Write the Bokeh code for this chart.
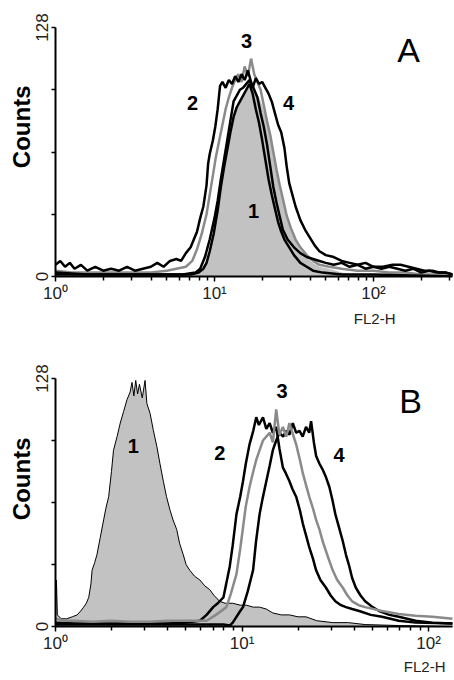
import numpy as np
from bokeh.plotting import figure
from bokeh.models import Range1d, FixedTicker, Label, Title
from bokeh.layouts import column
from bokeh.embed import file_html
from bokeh.resources import INLINE
from bokeh.core.properties import value

# ---------------- DATA (log10 FL2-H, counts) ----------------
# Panel A
a1_log = [0.00, 0.30, 0.60, 0.85, 0.90, 0.93, 0.95, 0.97, 0.995, 1.02, 1.04, 1.06, 1.08, 1.10, 1.12, 1.14, 1.16, 1.18, 1.20, 1.22,
          1.24, 1.26, 1.28, 1.30, 1.32, 1.34, 1.36, 1.38, 1.40, 1.42, 1.44, 1.47, 1.50, 1.54, 1.58, 1.62, 1.68, 1.80, 2.00, 2.50]
a1_cnt = [1, 1, 1, 1, 2, 4, 7, 13, 22, 34, 46, 56, 65, 74, 82, 87, 90, 93, 96, 99,
          94, 86, 79, 70, 60, 50, 42, 35, 28, 23, 19, 15, 11, 7, 5, 3, 2, 1, 1, 0]

afill_log = [0.00, 0.85, 0.90, 0.93, 0.95, 0.97, 0.995, 1.02, 1.04, 1.06, 1.08, 1.10, 1.12, 1.14, 1.16, 1.18, 1.20, 1.22, 1.24, 1.26,
             1.28, 1.30, 1.32, 1.34, 1.36, 1.38, 1.40, 1.42, 1.44, 1.47, 1.50, 1.54, 1.58, 1.62, 1.66, 1.72, 1.80, 1.90, 2.00, 2.50]
afill_cnt = [1, 1, 2, 4, 7, 13, 22, 34, 46, 56, 65, 74, 82, 87, 90, 93, 96, 99, 97, 95,
             92, 88, 82, 75, 67, 58, 50, 42, 35, 27, 20, 14, 10, 7, 5, 4, 2, 1, 0.5, 0]

a2_log = [0.00, 0.03, 0.06, 0.09, 0.12, 0.16, 0.20, 0.25, 0.30, 0.35, 0.40, 0.45, 0.50, 0.55, 0.60, 0.64, 0.68, 0.72, 0.76, 0.79,
          0.82, 0.85, 0.87, 0.89, 0.91, 0.93, 0.95, 0.96, 0.97, 0.99, 1.005, 1.02, 1.035, 1.05, 1.07, 1.09, 1.11, 1.13, 1.15, 1.17,
          1.19, 1.21, 1.23, 1.25, 1.27, 1.29, 1.31, 1.33, 1.35, 1.37, 1.39, 1.41, 1.43, 1.46, 1.50, 1.54, 1.58, 1.62, 1.66, 1.70,
          1.75, 1.80, 1.85, 1.90, 1.95, 2.00, 2.05, 2.10, 2.15, 2.20, 2.25, 2.30, 2.35, 2.40, 2.45, 2.50]
a2_cnt = [6, 8, 5, 7, 4, 6, 3, 5, 3, 4, 3, 5, 3, 4, 5, 7, 5, 8, 9, 8,
          12, 15, 19, 23, 30, 36, 47, 58, 63, 70, 77, 86, 98, 100, 97, 101, 99, 103, 100, 104,
          101, 106, 100, 96, 92, 84, 77, 68, 57, 46, 38, 31, 24, 19, 15, 12, 10, 9, 8, 7,
          6, 7, 5, 6, 4, 5, 4, 5, 4, 3, 4, 2, 3, 2, 2, 1]

a3_log = [0.00, 0.10, 0.20, 0.30, 0.40, 0.50, 0.60, 0.70, 0.76, 0.82, 0.86, 0.89, 0.92, 0.95, 0.97, 0.99, 1.01, 1.03, 1.05, 1.07,
          1.09, 1.11, 1.13, 1.15, 1.17, 1.19, 1.21, 1.23, 1.25, 1.27, 1.29, 1.31, 1.33, 1.35, 1.37, 1.39, 1.41, 1.43, 1.455, 1.48,
          1.51, 1.54, 1.58, 1.62, 1.66, 1.72, 1.80, 1.90, 2.00, 2.10, 2.20, 2.30, 2.50]
a3_cnt = [3, 2, 2, 2, 2, 2, 2, 3, 4, 5, 8, 14, 22, 32, 42, 52, 62, 70, 78, 86,
          92, 97, 101, 104, 100, 108, 103, 112, 104, 100, 96, 88, 80, 73, 64, 55, 47, 40, 31, 25,
          19, 15, 11, 8, 6, 5, 4, 3, 3, 2, 2, 1, 1]

a4_log = [0.00, 0.20, 0.40, 0.60, 0.80, 0.88, 0.91, 0.94, 0.97, 1.00, 1.02, 1.04, 1.06, 1.08, 1.10, 1.12, 1.14, 1.16, 1.18, 1.20,
          1.22, 1.24, 1.26, 1.28, 1.30, 1.32, 1.34, 1.36, 1.38, 1.40, 1.42, 1.44, 1.455, 1.47, 1.49, 1.51, 1.54, 1.57, 1.60, 1.63,
          1.66, 1.70, 1.75, 1.80, 1.85, 1.90, 1.95, 2.00, 2.06, 2.12, 2.17, 2.22, 2.27, 2.32, 2.37, 2.42, 2.46, 2.50]
a4_cnt = [2, 1, 1, 1, 1, 2, 4, 10, 19, 30, 39, 50, 60, 70, 80, 90, 93, 96, 97, 99,
          101, 97, 102, 99, 100, 97, 94, 90, 84, 78, 74, 66, 56, 48, 42, 36, 29, 24, 20, 16,
          13, 11, 10, 8, 7, 6, 7, 5, 5, 6, 6, 5, 4, 3, 3, 2, 2, 1]

# Panel B
b1_log = [0.000, 0.005, 0.010, 0.03, 0.06, 0.09, 0.116, 0.135, 0.151, 0.165, 0.178, 0.19, 0.196, 0.21, 0.222, 0.24, 0.258, 0.27,
          0.285, 0.30, 0.311, 0.33, 0.347, 0.365, 0.383, 0.40, 0.41, 0.42, 0.43, 0.44, 0.45, 0.465, 0.48, 0.49, 0.507, 0.525,
          0.543, 0.56, 0.578, 0.595, 0.614, 0.63, 0.65, 0.665, 0.685, 0.70, 0.72, 0.745, 0.774, 0.80, 0.827, 0.85, 0.88, 0.91,
          0.95, 0.99, 1.023, 1.06, 1.094, 1.13, 1.165, 1.21, 1.254, 1.30, 1.343, 1.40, 1.486, 1.57, 1.66, 1.84, 2.13]
b1_cnt = [5, 24, 6, 4, 4, 5, 6, 8, 10, 12, 15, 22, 29, 33, 37, 46, 55, 61,
          67, 80, 91, 98, 105, 111, 117, 121, 126, 119, 127, 120, 125, 118, 127, 115, 110, 101,
          93, 84, 75, 67, 60, 55, 50, 43, 37, 32, 29, 26, 24, 21, 19, 16, 13, 12,
          12, 11, 11, 10, 10, 9, 7, 6, 6, 5, 5, 3, 2, 2, 1, 0.5, 0]

b2_log = [0.00, 0.10, 0.20, 0.30, 0.40, 0.50, 0.60, 0.70, 0.774, 0.81, 0.845, 0.87, 0.90, 0.915, 0.934, 0.95, 0.97, 0.99, 1.005,
          1.02, 1.04, 1.06, 1.076, 1.09, 1.112, 1.13, 1.148, 1.165, 1.183, 1.20, 1.219, 1.235, 1.254, 1.27, 1.29, 1.31, 1.326,
          1.343, 1.36, 1.38, 1.397, 1.42, 1.45, 1.475, 1.50, 1.53, 1.557, 1.59, 1.628, 1.69, 1.75, 1.84, 1.93, 2.13]
b2_cnt = [2, 1.5, 1.5, 1.5, 1.5, 1.5, 1.5, 2, 3, 6, 10, 12, 15, 22, 31, 42, 58, 67, 75,
          84, 94, 101, 108, 104, 108, 102, 105, 100, 103, 92, 82, 79, 75, 71, 67, 60, 53,
          47, 41, 35, 29, 24, 20, 16, 13, 11, 10, 9, 8, 6, 5, 3, 2, 1.5]

b3_log = [0.00, 0.05, 0.10, 0.20, 0.30, 0.40, 0.50, 0.60, 0.70, 0.81, 0.86, 0.916, 0.94, 0.97, 0.99, 1.005, 1.02, 1.04, 1.06,
          1.076, 1.094, 1.112, 1.13, 1.148, 1.165, 1.183, 1.20, 1.219, 1.237, 1.254, 1.27, 1.29, 1.31, 1.326, 1.343, 1.36, 1.38,
          1.397, 1.415, 1.432, 1.46, 1.486, 1.51, 1.54, 1.565, 1.59, 1.625, 1.66, 1.75, 1.84, 1.93, 2.02, 2.13]
b3_cnt = [4, 3, 3, 2.5, 3, 2.5, 2.5, 3, 3, 3, 6, 10, 17, 27, 40, 51, 62, 72, 80,
          86, 91, 96, 98, 100, 95, 112, 99, 103, 98, 105, 100, 94, 86, 79, 73, 67, 61,
          55, 50, 44, 36, 29, 24, 20, 16, 13, 11, 10, 8, 6.5, 5.5, 5, 4]

b4_log = [0.00, 0.30, 0.60, 0.90, 0.934, 0.95, 0.97, 0.99, 1.005, 1.03, 1.059, 1.075, 1.094, 1.11, 1.13, 1.148, 1.165, 1.183,
          1.20, 1.22, 1.237, 1.254, 1.272, 1.29, 1.308, 1.325, 1.343, 1.36, 1.37, 1.385, 1.397, 1.415, 1.432, 1.45, 1.468,
          1.485, 1.50, 1.52, 1.54, 1.557, 1.575, 1.59, 1.61, 1.635, 1.66, 1.70, 1.735, 1.79, 1.84, 1.93, 2.02, 2.13]
b4_cnt = [1, 1, 1, 1, 0.5, 2, 5, 8, 10, 18, 29, 44, 58, 66, 75, 83, 91, 96,
          100, 98, 101, 99, 105, 100, 101, 98, 103, 100, 106, 95, 88, 84, 81, 77, 72,
          65, 58, 51, 44, 37, 31, 25, 20, 16, 13, 10, 8, 6, 5, 3, 2, 1.5]

# Curve-number labels (FL2-H value, counts)
a_lab_txt = ["3", "2", "4", "1"]
a_lab_x = [15.9, 7.27, 29.2, 17.6]
a_lab_y = [121, 89.4, 89.4, 33.9]
b_lab_txt = ["1", "2", "3", "4"]
b_lab_x = [2.61, 7.59, 16.4, 33.1]
b_lab_y = [93.4, 89.3, 121.8, 88.3]

x_ticks = [1, 10, 100]
x_tick_labels = ["10\u2070", "10\u00b9", "10\u00b2"]
x_minor = [2, 3, 4, 5, 6, 7, 8, 9, 20, 30, 40, 50, 60, 70, 80, 90, 200, 300]
y_ticks = [0, 32, 64, 96, 128]
y_tick_labels = ["0", "", "", "", "128"]

FONT = "Liberation Sans"
BLACK = "#000000"
GRAY = "#8a8a8a"
FILL = "#c2c2c2"


def lx(logs):
    return [10 ** v for v in logs]


def make_fig(xmax, height, top, bottom, right):
    p = figure(width=454, height=height, x_axis_type="log",
               x_range=Range1d(1, xmax), y_range=Range1d(0, 128),
               output_backend="svg", toolbar_location=None,
               min_border_left=55, min_border_right=right,
               min_border_top=top, min_border_bottom=bottom)
    p.outline_line_color = None
    p.xgrid.visible = False
    p.ygrid.visible = False
    p.background_fill_color = "white"
    p.border_fill_color = "white"

    xa = p.xaxis[0]
    xa.ticker = FixedTicker(ticks=x_ticks, minor_ticks=x_minor)
    xa.major_label_overrides = {t: l for t, l in zip(x_ticks, x_tick_labels)}
    xa.axis_line_width = 2
    xa.axis_line_color = BLACK
    xa.major_tick_out = 5
    xa.major_tick_in = 0
    xa.minor_tick_out = 4
    xa.minor_tick_in = 0
    xa.major_tick_line_width = 1.5
    xa.minor_tick_line_width = 1.5
    xa.major_label_text_font = FONT
    xa.major_label_text_font_size = "17px"
    xa.major_label_text_color = "#222222"
    xa.major_label_standoff = 2

    ya = p.yaxis[0]
    ya.ticker = FixedTicker(ticks=y_ticks)
    ya.major_label_overrides = {t: l for t, l in zip(y_ticks, y_tick_labels)}
    ya.major_label_orientation = "vertical"
    ya.axis_line_width = 2
    ya.axis_line_color = BLACK
    ya.major_tick_out = 4
    ya.major_tick_in = 0
    ya.major_tick_line_width = 1.5
    ya.minor_tick_line_color = None
    ya.major_label_text_font = FONT
    ya.major_label_text_font_size = "17px"
    ya.major_label_text_color = "#222222"
    ya.major_label_standoff = 4
    return p


def add_common_labels(p, letter, counts_offset, fl_offset, fl_standoff, letter_xy):
    p.add_layout(Title(text="Counts", align="right", offset=counts_offset, standoff=-4,
                       text_font=FONT, text_font_size="24px", text_font_style="bold",
                       text_color=BLACK), "left")
    p.add_layout(Title(text="FL2-H", align="right", offset=fl_offset, standoff=fl_standoff,
                       text_font=FONT, text_font_size="15px", text_font_style="normal",
                       text_color="#222222"), "below")
    p.add_layout(Label(x=letter_xy[0], y=letter_xy[1], x_units="screen", y_units="screen",
                       text=letter, text_align="center", text_baseline="middle",
                       text_font=FONT, text_font_size="34px", text_color=BLACK))


# ---------------- Panel A ----------------
pA = make_fig(10 ** 2.497, 340, 27, 64, 2)
pA.varea(x=lx(afill_log), y1=0, y2=afill_cnt, fill_color=FILL)
pA.line(lx(a3_log), a3_cnt, line_color=GRAY, line_width=2.5)
pA.line(lx(a1_log), a1_cnt, line_color=BLACK, line_width=2.5)
pA.line(lx(a2_log), a2_cnt, line_color=BLACK, line_width=2.5)
pA.line(lx(a4_log), a4_cnt, line_color=BLACK, line_width=2.5)
pA.text(x=a_lab_x, y=a_lab_y, text=a_lab_txt, text_align="center", text_baseline="middle",
        text_font=value(FONT), text_font_size="20px", text_font_style="bold", text_color=BLACK)
add_common_labels(pA, "A", 58, 57, 5, (353, 227))

# ---------------- Panel B ----------------
pB = make_fig(10 ** 2.128, 340, 38, 54, 0)
pB.varea(x=lx(b1_log), y1=0, y2=b1_cnt, fill_color=FILL)
pB.line(lx(b1_log), b1_cnt, line_color=BLACK, line_width=1)
pB.line(lx(b2_log), b2_cnt, line_color=BLACK, line_width=2.5)
pB.line(lx(b4_log), b4_cnt, line_color=BLACK, line_width=2.5)
pB.line(lx(b3_log), b3_cnt, line_color=GRAY, line_width=2.5)
pB.text(x=b_lab_x, y=b_lab_y, text=b_lab_txt, text_align="center", text_baseline="middle",
        text_font=value(FONT), text_font_size="20px", text_font_style="bold", text_color=BLACK)
add_common_labels(pB, "B", 59, 7, 0, (355, 226))

layout = column(pA, pB, spacing=0)
open("out.html", "w").write(file_html(layout, INLINE))
